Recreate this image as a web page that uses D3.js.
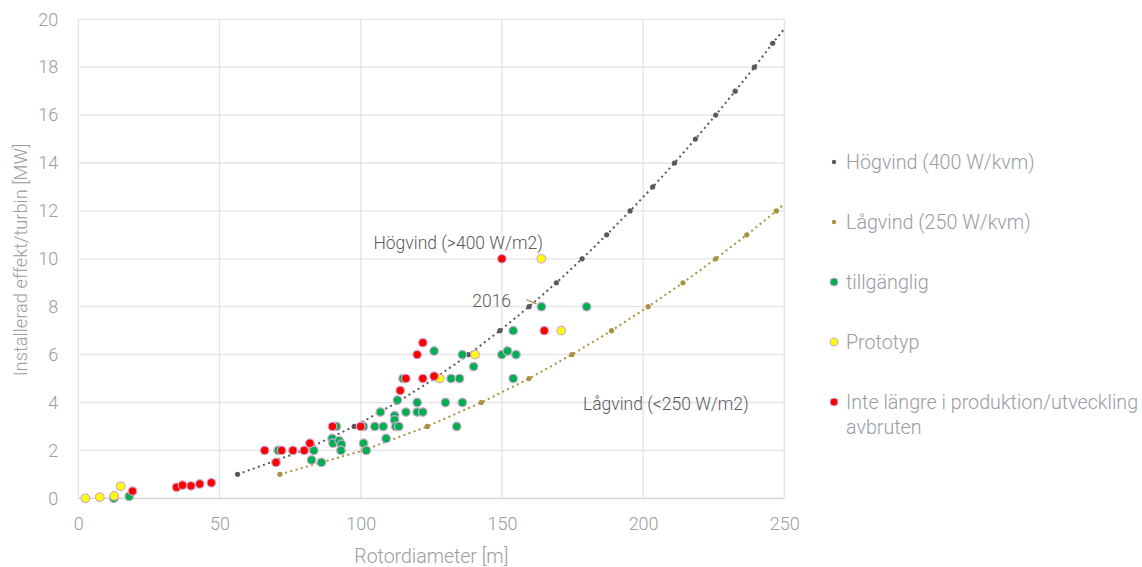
<!DOCTYPE html>
<html>
<head>
<meta charset="utf-8">
<script src="https://cdn.jsdelivr.net/npm/d3@7"></script>
<style>
  body { margin: 0; background: #fff; }
  text { font-family: Roboto, "Open Sans", sans-serif; font-weight: 300; }
</style>
</head>
<body>
<svg width="1142" height="567"></svg>
<script>
// turbine data: [rotor diameter m, power MW]
var tillganglig = [
  [12.6, 0], [18, 0.08],
  [70.8, 2.0], [83.4, 2.0], [82.6, 1.6], [86.1, 1.5],
  [91.4, 3.0], [89.9, 2.5], [90.2, 2.3], [92.4, 2.4], [93.2, 2.25], [93, 2.0],
  [101, 3.0], [105, 3.0], [108, 3.0], [101, 2.3], [102, 2.0], [109, 2.5],
  [107, 3.6], [112, 3.45], [112, 3.27], [112.4, 3.0], [113.5, 3.0], [113, 4.1],
  [115, 5.0], [126, 6.15], [132, 5], [135, 5],
  [120, 4], [120, 3.6], [122, 3.6], [116, 3.6], [130, 4], [136, 4], [134, 3],
  [136, 6], [140, 5.5], [150, 6], [152, 6.15], [155, 6], [154, 5], [154, 7],
  [164, 8], [180, 8]
];
var prototyp = [
  [2.5, 0], [7.6, 0.05], [12.7, 0.1], [15, 0.5],
  [128, 5], [140.5, 6], [164, 10], [171, 7]
];
var avbruten = [
  [19.2, 0.3], [34.8, 0.46], [36.9, 0.55], [39.9, 0.52], [43, 0.6], [47.1, 0.65],
  [66, 2], [72, 2], [76, 2], [80, 2], [82, 2.3], [70, 1.5],
  [90, 3], [100, 3], [114, 4.5], [116, 5], [120, 6], [122, 6.5], [122, 5], [126, 5.1],
  [150, 10], [165, 7]
];

// reference curves, markers at whole MW
var hogD = [56.4, 79.8, 97.7, 112.8, 126.2, 138.2, 149.3, 159.6, 169.3, 178.4,
            187.1, 195.4, 203.4, 211.1, 218.5, 225.7, 232.6, 239.4, 245.9];
var hogP = [1, 2, 3, 4, 5, 6, 7, 8, 9, 10, 11, 12, 13, 14, 15, 16, 17, 18, 19];
var hogEnd = [250, 19.6];
var lagD = [71.4, 100.9, 123.6, 142.7, 159.6, 174.8, 188.8, 201.8, 214.1, 225.7, 236.7, 247.2];
var lagP = [1, 2, 3, 4, 5, 6, 7, 8, 9, 10, 11, 12];
var lagEnd = [250, 12.3];

var xTicks = [0, 50, 100, 150, 200, 250];
var yTicks = [0, 2, 4, 6, 8, 10, 12, 14, 16, 18, 20];

var legendNames = ["Högvind (400 W/kvm)", "Lågvind (250 W/kvm)", "tillgänglig", "Prototyp",
                   "Inte längre i produktion/utveckling avbruten"];

var cHog = "#595959", cLag = "#a8923f";
var cGreen = "#00b050", cYellow = "#ffff00", cRed = "#ff0000";
var edge = "#cfaacf";
var textGray = "#9a9ba3";

var svg = d3.select("svg");
var x = d3.scaleLinear().domain([0, 250]).range([78.3, 784.3]);
var y = d3.scaleLinear().domain([0, 20]).range([498.3, 19.3]);

// grid
var grid = svg.append("g");
grid.selectAll("line.h").data(yTicks).enter().append("line")
  .attr("x1", x(0)).attr("x2", x(250))
  .attr("y1", function(d) { return y(d); }).attr("y2", function(d) { return y(d); })
  .attr("stroke", function(d) { return d === 0 ? "#cfd0d6" : "#e3e3e8"; })
  .attr("stroke-width", 1.3);
grid.selectAll("line.v").data(xTicks).enter().append("line")
  .attr("y1", y(0)).attr("y2", y(20))
  .attr("x1", function(d) { return x(d); }).attr("x2", function(d) { return x(d); })
  .attr("stroke", "#e3e3e8").attr("stroke-width", 1.3);

// axes
var xAxis = svg.append("g").attr("transform", "translate(0," + y(0) + ")")
  .call(d3.axisBottom(x).tickValues(xTicks).tickSize(0).tickPadding(19));
var yAxis = svg.append("g").attr("transform", "translate(" + x(0) + ",0)")
  .call(d3.axisLeft(y).tickValues(yTicks).tickSize(0).tickPadding(20));
[xAxis, yAxis].forEach(function(a) {
  a.select(".domain").remove();
  a.selectAll("text").attr("fill", textGray).style("font-size", "18px")
    .style("font-family", "Roboto, sans-serif").style("font-weight", 300);
});

svg.append("text").attr("x", x(125)).attr("y", 563).attr("text-anchor", "middle")
  .attr("fill", textGray).style("font-size", "19.5px").text("Rotordiameter [m]");
svg.append("text").attr("transform", "translate(27,260) rotate(-90)")
  .attr("text-anchor", "middle").attr("fill", textGray).style("font-size", "18.3px")
  .text("Installerad effekt/turbin [MW]");

// reference curves
var line = d3.line().x(function(d) { return x(d[0]); }).y(function(d) { return y(d[1]); });
function curve(D, P, end, color) {
  var pts = D.map(function(d, i) { return [d, P[i]]; });
  svg.append("path").datum(pts.concat([end]))
    .attr("d", line).attr("fill", "none").attr("stroke", color)
    .attr("stroke-width", 2).attr("stroke-dasharray", "2,3.4");
  svg.append("g").selectAll("circle").data(pts).enter().append("circle")
    .attr("cx", function(d) { return x(d[0]); }).attr("cy", function(d) { return y(d[1]); })
    .attr("r", 2.6).attr("fill", color);
}
curve(hogD, hogP, hogEnd, cHog);
curve(lagD, lagP, lagEnd, cLag);

// scatter
function dots(data, color) {
  svg.append("g").selectAll("circle").data(data).enter().append("circle")
    .attr("cx", function(d) { return x(d[0]); }).attr("cy", function(d) { return y(d[1]); })
    .attr("r", 4.3).attr("fill", color).attr("stroke", edge).attr("stroke-width", 1.2);
}
dots(tillganglig, cGreen);
dots(prototyp, cYellow);
dots(avbruten, cRed);

// annotations
var note = svg.append("g").attr("fill", "#595959").style("font-size", "17.5px").style("font-weight", 400);
note.append("text").attr("x", x(104.5)).attr("y", y(10.4)).text("Högvind (>400 W/m2)");
note.append("text").attr("x", x(139.5)).attr("y", y(8.0)).text("2016");
note.append("text").attr("x", x(178.7)).attr("y", y(3.7)).text("Lågvind (<250 W/m2)");
svg.append("line").attr("x1", x(158.6)).attr("y1", y(8.3)).attr("x2", x(162.2)).attr("y2", y(8.12))
  .attr("stroke", cLag).attr("stroke-width", 1.3);

// legend
var lg = svg.append("g").attr("transform", "translate(834,162)");
var items = lg.selectAll("g").data(legendNames).enter().append("g")
  .attr("transform", function(d, i) { return "translate(0," + i * 60 + ")"; });
items.append("circle").attr("r", function(d, i) { return i < 2 ? 2.2 : 4; })
  .attr("fill", function(d, i) { return [cHog, cLag, cGreen, cYellow, cRed][i]; })
  .attr("stroke", function(d, i) { return i < 2 ? "none" : edge; });
items.append("text").attr("x", 12).attr("y", 7).attr("fill", textGray).style("font-size", "19.7px")
  .each(function(d) {
    var t = d3.select(this);
    if (d.indexOf("avbruten") > 0) {
      t.append("tspan").attr("x", 12).text("Inte längre i produktion/utveckling");
      t.append("tspan").attr("x", 12).attr("dy", 25).text("avbruten");
    } else {
      t.text(d);
    }
  });
</script>
</body>
</html>
